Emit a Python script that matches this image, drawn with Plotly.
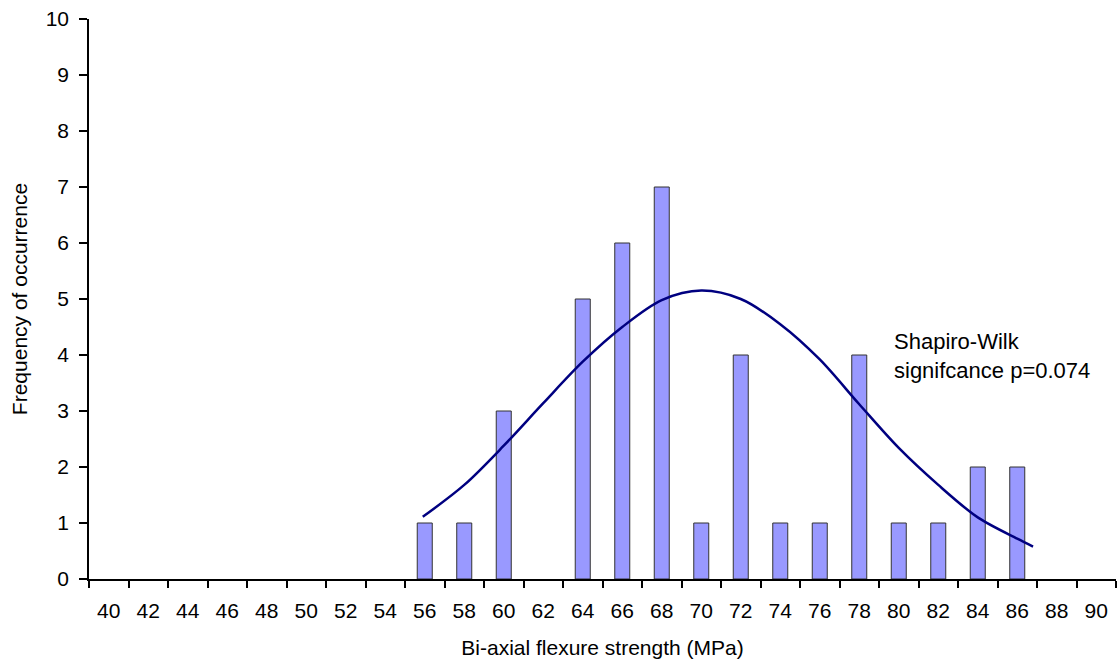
import plotly.graph_objects as go

# Histogram of bi-axial flexure strength (MPa), bins every 2 MPa
strength = [56, 58, 60, 64, 66, 68, 70, 72, 74, 76, 78, 80, 82, 84, 86]
frequency = [1, 1, 3, 5, 6, 7, 1, 4, 1, 1, 4, 1, 1, 2, 2]

# Fitted normal curve, sampled along the strength axis
curve_x = [55.9, 58, 60, 62, 64, 66, 68, 70, 72, 74, 76, 78, 80, 82, 84, 86, 86.8]
curve_y = [1.11, 1.68, 2.38, 3.14, 3.88, 4.5, 4.98, 5.15, 5.0, 4.55, 3.92, 3.12, 2.34, 1.68, 1.1, 0.72, 0.58]

x_ticks = list(range(40, 91, 2))
y_ticks = list(range(0, 11))

font_family = "Liberation Sans, Arial, sans-serif"

fig = go.Figure()
fig.add_trace(go.Bar(
    x=strength, y=frequency, width=0.76,
    marker=dict(color="#9999FF", line=dict(color="#333333", width=1)),
    showlegend=False, hoverinfo="x+y",
))
fig.add_trace(go.Scatter(
    x=curve_x, y=curve_y, mode="lines",
    line=dict(color="#000080", width=2.5, shape="spline", smoothing=0.9),
    showlegend=False,
))

fig.add_annotation(
    x=1.0, xref="paper", xanchor="left", xshift=-224,
    y=4.0, yref="y", yanchor="middle", yshift=-1,
    text="Shapiro-Wilk<br>signifcance p=0.074",
    showarrow=False, align="left",
    font=dict(family=font_family, size=22, color="#000000"),
)

fig.update_layout(
    width=1119, height=667,
    margin=dict(l=89, r=3, t=19, b=88),
    paper_bgcolor="white", plot_bgcolor="white",
    font=dict(family=font_family, color="#000000"),
    xaxis=dict(
        range=[39, 91], tickmode="array", tickvals=x_ticks,
        ticktext=[str(v) for v in x_ticks], ticks="",
        tickfont=dict(size=21), ticklabelstandoff=12,
        showgrid=False, zeroline=False,
        showline=True, linecolor="#000000", linewidth=1.5,
        minor=dict(tick0=39, dtick=2, ticks="outside", ticklen=7,
                   tickcolor="#000000", tickwidth=1.5, showgrid=False),
        title=dict(text="Bi-axial flexure strength (MPa)", font=dict(size=21), standoff=19),
    ),
    yaxis=dict(
        range=[0, 10], tickmode="array", tickvals=y_ticks,
        ticks="outside", ticklen=8, tickwidth=1.5, tickcolor="#000000",
        tickfont=dict(size=21), ticklabelstandoff=6,
        showgrid=False, zeroline=False,
        showline=True, linecolor="#000000", linewidth=1.5,
        title=dict(text="Frequency of occurrence", font=dict(size=21), standoff=12),
    ),
)

fig.write_html("out.html")
